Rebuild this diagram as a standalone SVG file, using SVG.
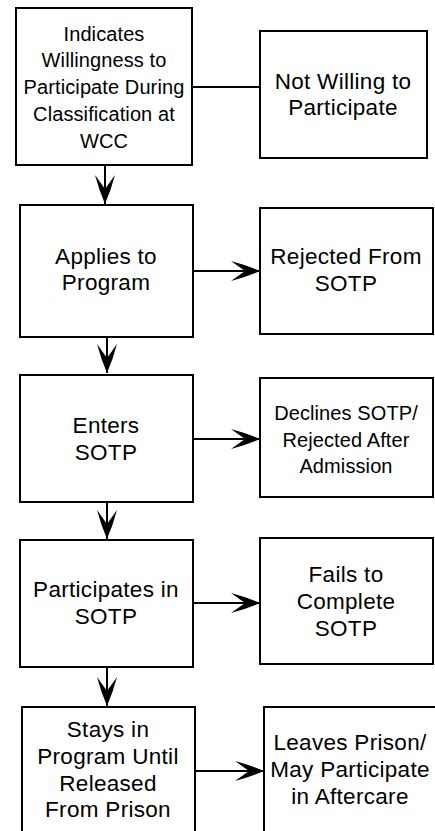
<svg xmlns="http://www.w3.org/2000/svg" width="435" height="831" viewBox="0 0 435 831">
<style>
.box{fill:#fff;stroke:#000;stroke-width:2}
.t{font-family:"Liberation Sans",Arial,sans-serif;font-size:22.5px;letter-spacing:0.3px;text-anchor:middle;fill:#000}
.s{font-size:20px;letter-spacing:0.1px}
.c{stroke:#000;stroke-width:2;fill:none}
</style>
<defs>
<marker id="ah" markerUnits="userSpaceOnUse" markerWidth="32" markerHeight="22" refX="29" refY="11" orient="auto">
<path d="M0,1 Q15,5 29,11 Q15,17 0,21 L14,11 Z" fill="#000"/>
</marker>
</defs>
<rect width="435" height="831" fill="#fff"/>
<g id="connectors">
<line class="c" x1="192" y1="87" x2="260" y2="87"/>
<line class="c" x1="105" y1="165" x2="105" y2="204" marker-end="url(#ah)"/>
<line class="c" x1="193" y1="271" x2="260" y2="271" marker-end="url(#ah)"/>
<line class="c" x1="107" y1="337" x2="107" y2="373" marker-end="url(#ah)"/>
<line class="c" x1="193" y1="439" x2="260" y2="439" marker-end="url(#ah)"/>
<line class="c" x1="107" y1="502" x2="107" y2="539" marker-end="url(#ah)"/>
<line class="c" x1="193" y1="603" x2="260" y2="603" marker-end="url(#ah)"/>
<line class="c" x1="107" y1="667" x2="107" y2="706" marker-end="url(#ah)"/>
<line class="c" x1="195" y1="771" x2="264" y2="771" marker-end="url(#ah)"/>
</g>
<g id="n1">
<rect class="box" x="16" y="8" width="176" height="157"/>
<text class="t s" x="104" y="41">Indicates</text>
<text class="t s" x="104" y="67">Willingness to</text>
<text class="t s" x="104" y="94">Participate During</text>
<text class="t s" x="104" y="121">Classification at</text>
<text class="t s" x="104" y="148">WCC</text>
</g>
<g id="n2">
<rect class="box" x="260" y="31" width="167" height="127"/>
<text class="t" x="343" y="89">Not Willing to</text>
<text class="t" x="343" y="115">Participate</text>
</g>
<g id="n3">
<rect class="box" x="20" y="205" width="173" height="132"/>
<text class="t" x="106" y="264">Applies to</text>
<text class="t" x="106" y="290">Program</text>
</g>
<g id="n4">
<rect class="box" x="260" y="208" width="173" height="126"/>
<text class="t" x="346" y="264">Rejected From</text>
<text class="t" x="346" y="291">SOTP</text>
</g>
<g id="n5">
<rect class="box" x="20" y="375" width="173" height="127"/>
<text class="t" x="106" y="433">Enters</text>
<text class="t" x="106" y="460">SOTP</text>
</g>
<g id="n6">
<rect class="box" x="260" y="378" width="173" height="119"/>
<text class="t s" x="346" y="420">Declines SOTP/</text>
<text class="t s" x="346" y="447">Rejected After</text>
<text class="t s" x="346" y="473">Admission</text>
</g>
<g id="n7">
<rect class="box" x="20" y="540" width="173" height="127"/>
<text class="t" x="106" y="597">Participates in</text>
<text class="t" x="106" y="624">SOTP</text>
</g>
<g id="n8">
<rect class="box" x="260" y="538" width="173" height="126"/>
<text class="t" x="346" y="582">Fails to</text>
<text class="t" x="346" y="609">Complete</text>
<text class="t" x="346" y="636">SOTP</text>
</g>
<g id="n9">
<rect class="box" x="22" y="707" width="173" height="140"/>
<text class="t" x="108" y="737">Stays in</text>
<text class="t" x="108" y="764">Program Until</text>
<text class="t" x="108" y="791">Released</text>
<text class="t" x="108" y="817">From Prison</text>
</g>
<g id="n10">
<rect class="box" x="264" y="707" width="174" height="140"/>
<text class="t" x="350" y="750">Leaves Prison/</text>
<text class="t" x="350" y="777">May Participate</text>
<text class="t" x="350" y="804">in Aftercare</text>
</g>
</svg>
